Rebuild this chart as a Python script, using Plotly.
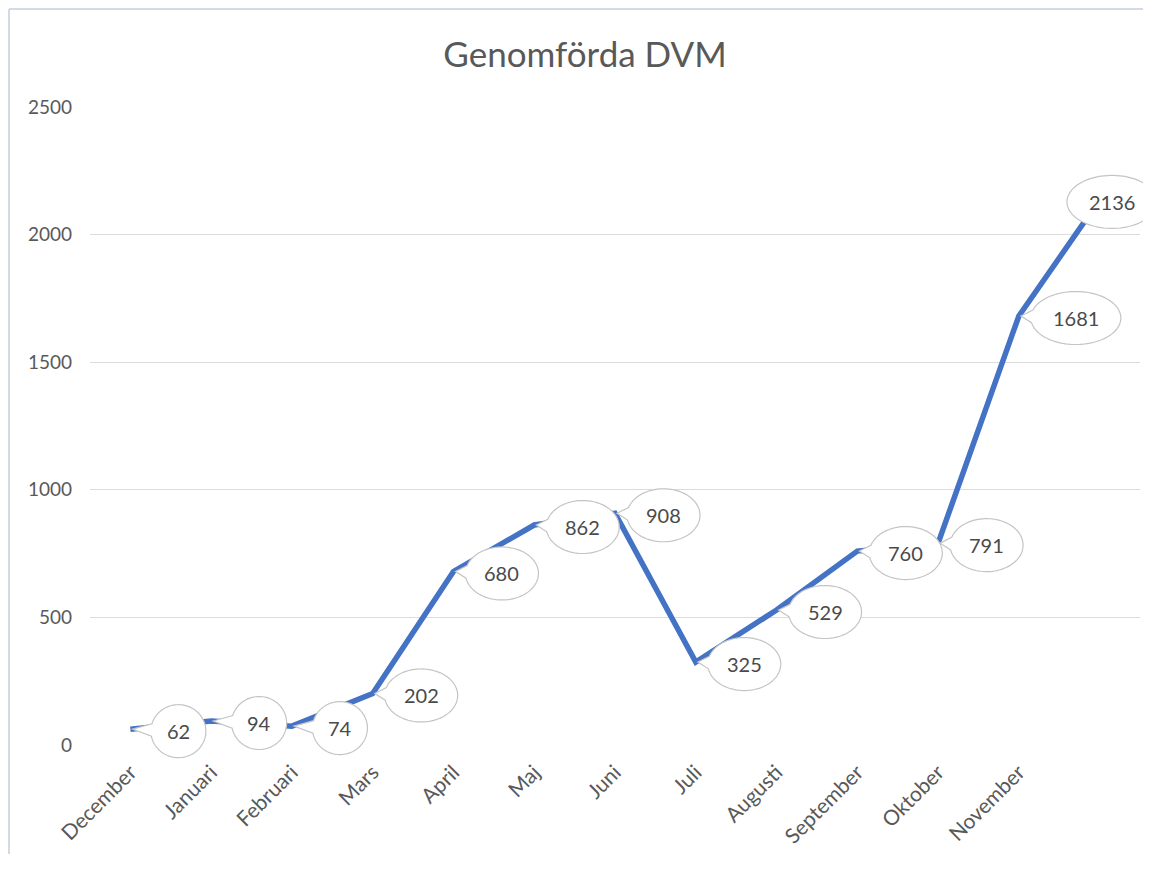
import math
import plotly.graph_objects as go

# ---- data ----
title_text = "Genomförda DVM"
months = ["December", "Januari", "Februari", "Mars", "April", "Maj", "Juni",
          "Juli", "Augusti", "September", "Oktober", "November"]
values = [62, 94, 74, 202, 680, 862, 908, 325, 529, 760, 791, 1681, 2136]
y_ticks = [0, 500, 1000, 1500, 2000, 2500]

# ---- layout constants (page body has an 8px margin on every side) ----
PAGE_W, PAGE_H = 1151, 870
BODY = 8
FIG_W, FIG_H = PAGE_W - 2 * BODY, PAGE_H - 2 * BODY - 8
PLOT_LEFT, PLOT_RIGHT, PLOT_TOP, PLOT_BOTTOM = 90, 1140, 107, 745  # page px
M_L = PLOT_LEFT - BODY
M_R = (BODY + FIG_W) - PLOT_RIGHT
M_T = PLOT_TOP - BODY
M_B = (BODY + FIG_H) - PLOT_BOTTOM
X_RANGE = [-0.5, len(values) - 0.5]
Y_RANGE = [0, 2500]
PLOT_W = FIG_W - M_L - M_R
PLOT_H = FIG_H - M_T - M_B
UNIT = PLOT_W / (X_RANGE[1] - X_RANGE[0])

FONT = "Lato"
GRAY = "#595959"
LINE_BLUE = "#4472C4"
x_idx = list(range(len(values)))


def x_domain(xv):
    return (xv - X_RANGE[0]) / (X_RANGE[1] - X_RANGE[0])


def y_domain(yv):
    return (yv - Y_RANGE[0]) / (Y_RANGE[1] - Y_RANGE[0])


def callout_path(cx, cy, a, b, tip=(2.0, 0.0), half=0.24, n=90):
    """Ellipse (centre cx,cy in screen px, y down) with a wedge toward tip.
    Returned as a path in pixel units relative to the anchor (y up)."""
    tx, ty = tip[0] - cx, tip[1] - cy
    inside = (tx / a) ** 2 + (ty / b) ** 2 < 1.0
    pts = []
    if inside:
        for k in range(n):
            t = 2 * math.pi * k / n
            pts.append((cx + a * math.cos(t), cy + b * math.sin(t)))
    else:
        th = math.atan2(ty / b, tx / a)
        pts.append(tip)
        for k in range(n + 1):
            t = th + half + (2 * math.pi - 2 * half) * k / n
            pts.append((cx + a * math.cos(t), cy + b * math.sin(t)))
    return "M " + " L ".join(f"{x:.2f},{-y:.2f}" for x, y in pts) + " Z"


fig = go.Figure()
fig.add_trace(go.Scatter(
    x=x_idx, y=values, mode="lines",
    line=dict(color=LINE_BLUE, width=5.5),
    hoverinfo="skip", showlegend=False, cliponaxis=False,
))

shapes = []
annotations = []
for i, v in enumerate(values):
    px_page = PLOT_LEFT + (i - X_RANGE[0]) * UNIT
    nd = len(str(v))
    w = {1: 52, 2: 55, 3: 73}.get(nd, 90)
    h = 53
    off = max(48, w / 2 + 12)
    off = min(off, PAGE_W - 39 - px_page)   # keep the callout inside the chart
    dy = 2
    shapes.append(dict(
        type="path", xref="x domain", yref="y domain",
        xsizemode="pixel", ysizemode="pixel",
        xanchor=x_domain(i), yanchor=y_domain(v),
        path=callout_path(off, dy, w / 2, h / 2),
        fillcolor="white", line=dict(color="#C4C4C4", width=1.2),
        layer="above",
    ))
    annotations.append(dict(
        x=i, y=v, xref="x", yref="y", xshift=off, yshift=-dy,
        text=str(v), showarrow=False,
        font=dict(family=FONT, size=20, color="#4A4A4A"),
        xanchor="center", yanchor="middle",
    ))


# outer chart frame (light border at top/left), page pixels -> paper
def px_to_paper_x(p):
    return (p - PLOT_LEFT) / PLOT_W


def py_to_paper_y(p):
    return (PLOT_BOTTOM - p) / PLOT_H


FRAME = dict(color="#D3DAE6", width=2)
shapes.append(dict(type="line", xref="paper", yref="paper",
                   x0=px_to_paper_x(9), x1=px_to_paper_x(PAGE_W),
                   y0=py_to_paper_y(9), y1=py_to_paper_y(9),
                   line=FRAME, layer="below"))
shapes.append(dict(type="line", xref="paper", yref="paper",
                   x0=px_to_paper_x(9), x1=px_to_paper_x(9),
                   y0=py_to_paper_y(9), y1=py_to_paper_y(PAGE_H),
                   line=FRAME, layer="below"))

fig.update_layout(
    width=FIG_W, height=FIG_H,
    margin=dict(l=M_L, r=M_R, t=M_T, b=M_B, pad=0),
    paper_bgcolor="white", plot_bgcolor="white",
    title=dict(text=title_text, x=(585 - BODY) / FIG_W, xanchor="center",
               y=1 - (55 - BODY) / FIG_H, yanchor="middle", yref="container",
               font=dict(family=FONT, size=35, color=GRAY)),
    shapes=shapes, annotations=annotations,
    font=dict(family=FONT, color=GRAY),
)
fig.update_xaxes(
    range=X_RANGE, tickmode="array", tickvals=list(range(len(months))),
    ticktext=months, tickangle=-45, showgrid=False, zeroline=False,
    showline=False, ticks="", ticklabelstandoff=10,
    tickfont=dict(family=FONT, size=21, color=GRAY),
)
fig.update_yaxes(
    range=Y_RANGE, tickmode="array", tickvals=y_ticks,
    showgrid=True, gridcolor="#DCDCDC", gridwidth=1, zeroline=False,
    showline=False, ticks="", ticklabelstandoff=17,
    tickfont=dict(family=FONT, size=19, color=GRAY),
)

fig.write_html("out.html")
